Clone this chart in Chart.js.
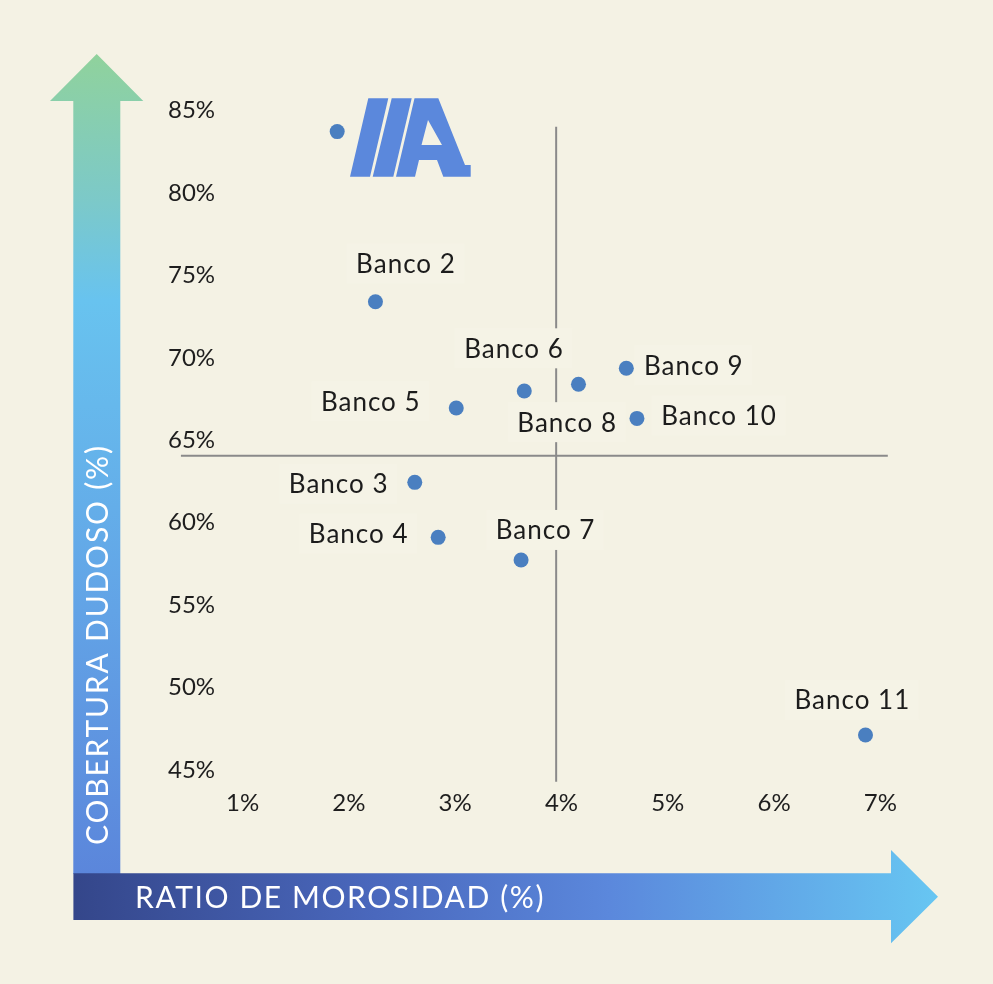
<!DOCTYPE html>
<html><head><meta charset="utf-8">
<script src="https://cdn.jsdelivr.net/npm/chart.js@4.4.1/dist/chart.umd.min.js"></script>
<style>html,body{margin:0;padding:0;background:#f4f2e4;}#wrap{width:993px;height:984px;position:relative;}</style>
</head><body><div id="wrap"><canvas id="c" width="993" height="984"></canvas></div>
<script>
const banks = ['Banco 1','Banco 2','Banco 3','Banco 4','Banco 5','Banco 6','Banco 7','Banco 8','Banco 9','Banco 10','Banco 11'];
const showLabel = [false,true,true,true,true,true,true,true,true,true,true];
const morosidad = [1.89, 2.25, 2.62, 2.84, 3.01, 3.65, 3.62, 4.16, 4.61, 4.71, 6.86];
const cobertura = [83.73, 73.41, 62.45, 59.11, 66.96, 67.99, 57.74, 68.40, 69.37, 66.33, 47.12];
const xTicks = [1,2,3,4,5,6,7];
const yTicks = [45,50,55,60,65,70,75,80,85];
const refX = 3.95, refY = 64.07;
const refXSpan = [0.42, 7.07];
const refYSpan = [44.28, 84.03];
const xTitle = 'RATIO DE MOROSIDAD (%)';
const yTitle = 'COBERTURA DUDOSO (%)';
// label offsets (px) relative to point
const labelOffsets = [null,[30,-38.4],[-76.6,1.4],[-80,-3.6],[-86,-6.8],[-10.8,-42.7],[24,-30],[-11.8,37.9],[67,-3],[81.6,-3],[-13.6,-35]];

const FONT = 'Lato';
const BG = '#f4f2e4';

const bgPlugin = {
  id: 'bgArrows',
  beforeDraw(chart) {
    const ctx = chart.ctx;
    ctx.save();
    ctx.fillStyle = BG;
    ctx.fillRect(0, 0, chart.width, chart.height);
    let g = ctx.createLinearGradient(0, 54, 0, 874);
    g.addColorStop(0, '#90d29c');
    g.addColorStop(0.18, '#7cc9c9');
    g.addColorStop(0.3, '#68c3ef');
    g.addColorStop(0.68, '#62a3e6');
    g.addColorStop(1, '#5b86db');
    ctx.fillStyle = g;
    ctx.beginPath();
    ctx.moveTo(96.7, 54); ctx.lineTo(143.3, 101); ctx.lineTo(120.3, 101);
    ctx.lineTo(120.3, 874); ctx.lineTo(73.3, 874); ctx.lineTo(73.3, 101); ctx.lineTo(50, 101);
    ctx.closePath(); ctx.fill();
    g = ctx.createLinearGradient(73, 0, 938, 0);
    g.addColorStop(0, '#34468a');
    g.addColorStop(0.35, '#4a68bd');
    g.addColorStop(0.62, '#5b88dc');
    g.addColorStop(1, '#67c6f2');
    ctx.fillStyle = g;
    ctx.beginPath();
    ctx.moveTo(73.4, 873.3); ctx.lineTo(891, 873.3); ctx.lineTo(891, 850); ctx.lineTo(938, 896.7);
    ctx.lineTo(891, 943.3); ctx.lineTo(891, 920); ctx.lineTo(73.4, 920);
    ctx.closePath(); ctx.fill();
    ctx.fillStyle = '#ffffff';
    ctx.font = '30px ' + FONT;
    ctx.textBaseline = 'middle';
    ctx.textAlign = 'left';
    ctx.letterSpacing = '1.6px';
    ctx.fillText(xTitle, 135, 898);
    ctx.translate(98, 845);
    ctx.rotate(-Math.PI / 2);
    ctx.letterSpacing = '1.8px';
    ctx.fillText(yTitle, 0, 0);
    ctx.letterSpacing = '0px';
    ctx.restore();
  }
};

const labelPlugin = {
  id: 'labels',
  afterDatasetsDraw(chart) {
    const ctx = chart.ctx;
    const meta = chart.getDatasetMeta(2);
    ctx.save();
    ctx.font = '26px ' + FONT;
    ctx.letterSpacing = '1px';
    ctx.textAlign = 'center';
    ctx.textBaseline = 'middle';
    meta.data.forEach((pt, i) => {
      if (!showLabel[i]) return;
      const off = labelOffsets[i];
      const cx = pt.x + off[0], cy = pt.y + off[1];
      const w = ctx.measureText(banks[i]).width;
      ctx.fillStyle = '#f5f3e6';
      ctx.fillRect(cx - w / 2 - 9, cy - 20, w + 18, 40);
      ctx.fillStyle = '#1c1c1c';
      ctx.fillText(banks[i], cx + 0.5, cy + 1);
    });
    ctx.letterSpacing = '0px';
    // logo
    ctx.fillStyle = '#5b88dc';
    const poly = (pts) => { ctx.moveTo(pts[0][0], pts[0][1]); for (let k = 1; k < pts.length; k++) ctx.lineTo(pts[k][0], pts[k][1]); ctx.closePath(); };
    ctx.beginPath();
    poly([[368.3,98.3],[388.3,98.3],[370,176.7],[350,176.7]]);
    poly([[391.7,98.3],[411.7,98.3],[393.3,176.7],[372.7,176.7]]);
    ctx.fill();
    ctx.beginPath();
    poly([[396,176.7],[414.5,98.3],[438.3,98.3],[465,165],[470.7,165],[470.7,176.7],[443.3,176.7],[437,160],[419,160],[415,176.7]]);
    poly([[428,120],[442,145],[421.5,145]]);
    ctx.fill('evenodd');
    ctx.restore();
  }
};

const pts = morosidad.map((x, i) => ({x: x, y: cobertura[i]}));

new Chart(document.getElementById('c'), {
  type: 'scatter',
  data: {
    datasets: [
      { type: 'line', data: [{x: refX, y: refYSpan[0]}, {x: refX, y: refYSpan[1]}], borderColor: '#8a8a8a', borderWidth: 2, pointRadius: 0, order: 3, showLine: true, fill: false },
      { type: 'line', data: [{x: refXSpan[0], y: refY}, {x: refXSpan[1], y: refY}], borderColor: '#8a8a8a', borderWidth: 2, pointRadius: 0, order: 2, showLine: true, fill: false },
      { data: pts, backgroundColor: '#4a7fc0', borderColor: '#4a7fc0', borderWidth: 0, pointRadius: 7.5, pointHoverRadius: 7.5, order: 1 }
    ]
  },
  options: {
    responsive: false,
    animation: false,
    events: [],
    layout: { padding: { left: 168, top: 94.2, right: 102, bottom: 157.6 } },
    plugins: { legend: { display: false }, tooltip: { enabled: false } },
    scales: {
      x: {
        type: 'linear', min: 0.4, max: 7.1,
        grid: { display: false, drawTicks: false }, border: { display: false },
        afterBuildTicks: (s) => { s.ticks = xTicks.map(v => ({value: v})); },
        afterFit: (s) => { s.height = 40; },
        ticks: { padding: 2, color: '#1e1e1e', font: { family: FONT, size: 24 }, maxRotation: 0, autoSkip: false, callback: (v) => v + '%' }
      },
      y: {
        type: 'linear', min: 44, max: 86,
        grid: { display: false, drawTicks: false }, border: { display: false },
        afterBuildTicks: (s) => { s.ticks = yTicks.map(v => ({value: v})); },
        afterFit: (s) => { s.width = 10.8; },
        ticks: { mirror: true, padding: -10.8, color: '#1e1e1e', font: { family: FONT, size: 24 }, autoSkip: false, callback: (v) => v + '%' }
      }
    }
  },
  plugins: [bgPlugin, labelPlugin]
});
</script></body></html>
